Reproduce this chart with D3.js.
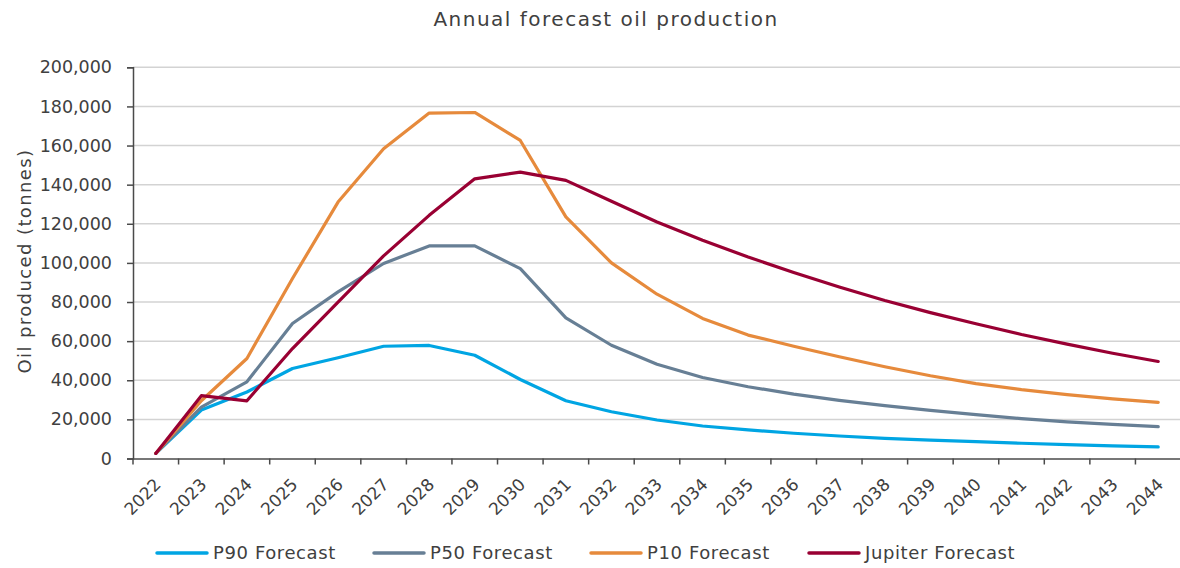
<!DOCTYPE html>
<html>
<head>
<meta charset="utf-8">
<script src="https://cdn.jsdelivr.net/npm/d3@7"></script>
<style>
  html, body { margin: 0; padding: 0; background: #ffffff; }
  svg { display: block; font-family: "DejaVu Sans", sans-serif; }
</style>
</head>
<body>
<svg id="chart" width="1180" height="568"></svg>
<script>
const years = ["2022","2023","2024","2025","2026","2027","2028","2029","2030","2031","2032","2033","2034","2035","2036","2037","2038","2039","2040","2041","2042","2043","2044"];
const p90 = [2600, 24800, 34000, 46000, 51500, 57400, 57800, 52800, 40400, 29500, 23900, 19700, 16600, 14600, 12900, 11500, 10300, 9400, 8600, 7800, 7100, 6500, 5900];
const p50 = [2600, 26300, 39200, 69000, 85200, 99700, 108700, 108700, 97100, 71900, 57900, 48200, 41400, 36700, 32900, 29700, 27000, 24600, 22400, 20400, 18700, 17400, 16300];
const p10 = [2600, 29500, 51100, 92000, 131100, 158400, 176600, 176900, 162600, 123500, 100000, 84000, 71600, 63100, 57400, 52000, 46900, 42300, 38300, 35200, 32700, 30500, 28700];
const jupiter = [2600, 32100, 29500, 56200, 80000, 103600, 124300, 143000, 146400, 142200, 131500, 120900, 111600, 103000, 95100, 87700, 80800, 74600, 68900, 63400, 58500, 53800, 49600];
const seriesNames = ["P90 Forecast", "P50 Forecast", "P10 Forecast", "Jupiter Forecast"];
const seriesColors = ["#00a5e3", "#677f95", "#e68a3c", "#990033"];
const yTicks = [0, 20000, 40000, 60000, 80000, 100000, 120000, 140000, 160000, 180000, 200000];

const seriesValues = [p90, p50, p10, jupiter];
const textColor = "#404040";
const axisColor = "#4a4a4a";
const svg = d3.select("#chart");

const pLeft = 133, pRight = 1181, pTop = 67.3, pBottom = 458.5;
const x = d3.scaleBand().domain(years).range([pLeft, pRight]).padding(0);
const y = d3.scaleLinear().domain([0, 200000]).range([pBottom, pTop]);

// title
svg.append("text").attr("x", 606).attr("y", 26).attr("text-anchor", "middle")
  .attr("font-size", 20).attr("letter-spacing", 1.5).attr("fill", textColor)
  .text("Annual forecast oil production");

// y axis title
svg.append("text").attr("transform", `translate(30.5,261) rotate(-90)`)
  .attr("text-anchor", "middle").attr("font-size", 18).attr("letter-spacing", 1.4)
  .attr("fill", textColor).text("Oil produced (tonnes)");

// gridlines
svg.append("g").selectAll("line").data(yTicks.filter(d => d > 0)).join("line")
  .attr("x1", pLeft).attr("x2", pRight)
  .attr("y1", d => y(d)).attr("y2", d => y(d))
  .attr("stroke", "#d3d3d3").attr("stroke-width", 1.5);

// y axis
const yAxis = svg.append("g").attr("transform", `translate(${pLeft},0)`)
  .call(d3.axisLeft(y).tickValues(yTicks).tickFormat(d3.format(",")).tickSize(6).tickPadding(15));
yAxis.select(".domain").attr("stroke", axisColor).attr("stroke-width", 1.5);
yAxis.selectAll(".tick line").attr("stroke", axisColor).attr("stroke-width", 1.5);
yAxis.selectAll(".tick text").attr("font-size", 17.5).attr("fill", textColor)
  .attr("font-family", "DejaVu Sans");

// x axis
const xAxis = svg.append("g").attr("transform", `translate(0,${pBottom})`)
  .call(d3.axisBottom(x).tickSize(0).tickFormat(""));
xAxis.select(".domain").attr("stroke", axisColor).attr("stroke-width", 1.5);
const boundaries = years.map(d => x(d)).concat([x(years[years.length - 1]) + x.bandwidth()]);
svg.append("g").selectAll("line").data(boundaries).join("line")
  .attr("x1", d => d).attr("x2", d => d)
  .attr("y1", pBottom).attr("y2", pBottom + 6)
  .attr("stroke", axisColor).attr("stroke-width", 1.5);
svg.append("g").selectAll("text").data(years).join("text")
  .attr("transform", d => `translate(${x(d) + x.bandwidth() / 2 + 2},${pBottom + 23}) rotate(-45)`)
  .attr("text-anchor", "end").attr("dy", "0.35em")
  .attr("font-size", 17).attr("fill", textColor).text(d => d);

// lines
const line = d3.line()
  .x((d, i) => x(years[i]) + x.bandwidth() / 2)
  .y(d => y(d));
svg.append("g").selectAll("path").data(seriesValues).join("path")
  .attr("d", d => line(d))
  .attr("fill", "none")
  .attr("stroke", (d, i) => seriesColors[i])
  .attr("stroke-width", 3.2)
  .attr("stroke-linejoin", "round")
  .attr("stroke-linecap", "round");

// legend
const legendX = [157, 374, 591, 809];
const lg = svg.append("g").selectAll("g").data(seriesNames).join("g")
  .attr("transform", (d, i) => `translate(${legendX[i]},553)`);
lg.append("line").attr("x1", 0).attr("x2", 50).attr("y1", 0).attr("y2", 0)
  .attr("stroke", (d, i) => seriesColors[i]).attr("stroke-width", 3.5).attr("stroke-linecap", "round");
lg.append("text").attr("x", 56).attr("dy", "0.36em").attr("font-size", 18)
  .attr("letter-spacing", 0.6).attr("fill", textColor).text(d => d);
</script>
</body>
</html>
